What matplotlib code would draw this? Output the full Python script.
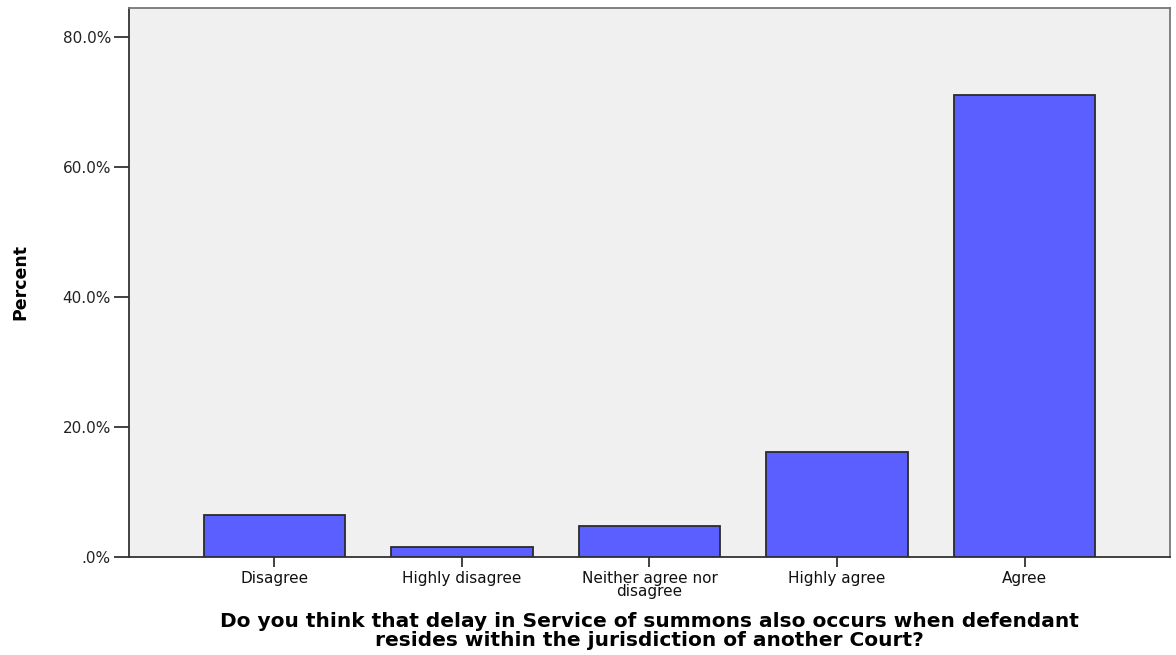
import matplotlib
matplotlib.use("Agg")
import matplotlib.pyplot as plt
from matplotlib.ticker import FuncFormatter

categories = ["Disagree", "Highly disagree", "Neither agree nor\ndisagree", "Highly agree", "Agree"]
percents = [6.45, 1.61, 4.84, 16.13, 70.97]
yticks = [0, 20, 40, 60, 80]

fig = plt.figure(figsize=(11.76, 6.55), dpi=100)
W, H = 1176, 655
ax = fig.add_axes([129 / W, 1 - 557 / H, (1170 - 129) / W, (557 - 8) / H])
ax.set_facecolor("#F0F0F0")

x = list(range(len(categories)))
ax.bar(x, percents, width=0.754, color="#5B5FFF", edgecolor="#2b2b2b", linewidth=1.3, zorder=3)

ax.set_xlim(-0.775, 4.775)
ax.set_ylim(0, 84.4)
ax.set_yticks(yticks)
ax.yaxis.set_major_formatter(FuncFormatter(lambda v, p: ".0%" if v == 0 else f"{v:.1f}%"))
ax.set_xticks(x)
ax.set_xticklabels(categories, fontsize=11, family="DejaVu Sans", linespacing=0.85, color="#111111")
for lab in ax.get_yticklabels():
    lab.set_fontsize(11)
    lab.set_color("#222222")

ax.tick_params(axis="y", direction="out", length=11, width=1.3, color="#333333", pad=2)
ax.tick_params(axis="x", direction="out", length=7, width=1.3, color="#333333", pad=3)

for side in ["left", "bottom", "top", "right"]:
    ax.spines[side].set_linewidth(1.3)
ax.spines["left"].set_color("#333333")
ax.spines["bottom"].set_color("#333333")
ax.spines["top"].set_color("#777777")
ax.spines["right"].set_color("#777777")

ax.set_ylabel("Percent", fontsize=12.5, fontweight="bold", family="DejaVu Sans", labelpad=24)
ax.set_xlabel("Do you think that delay in Service of summons also occurs when defendant\nresides within the jurisdiction of another Court?",
              fontsize=14.5, fontweight="bold", family="DejaVu Sans", linespacing=1.05, labelpad=9)

fig.savefig("out.png", dpi=100)
